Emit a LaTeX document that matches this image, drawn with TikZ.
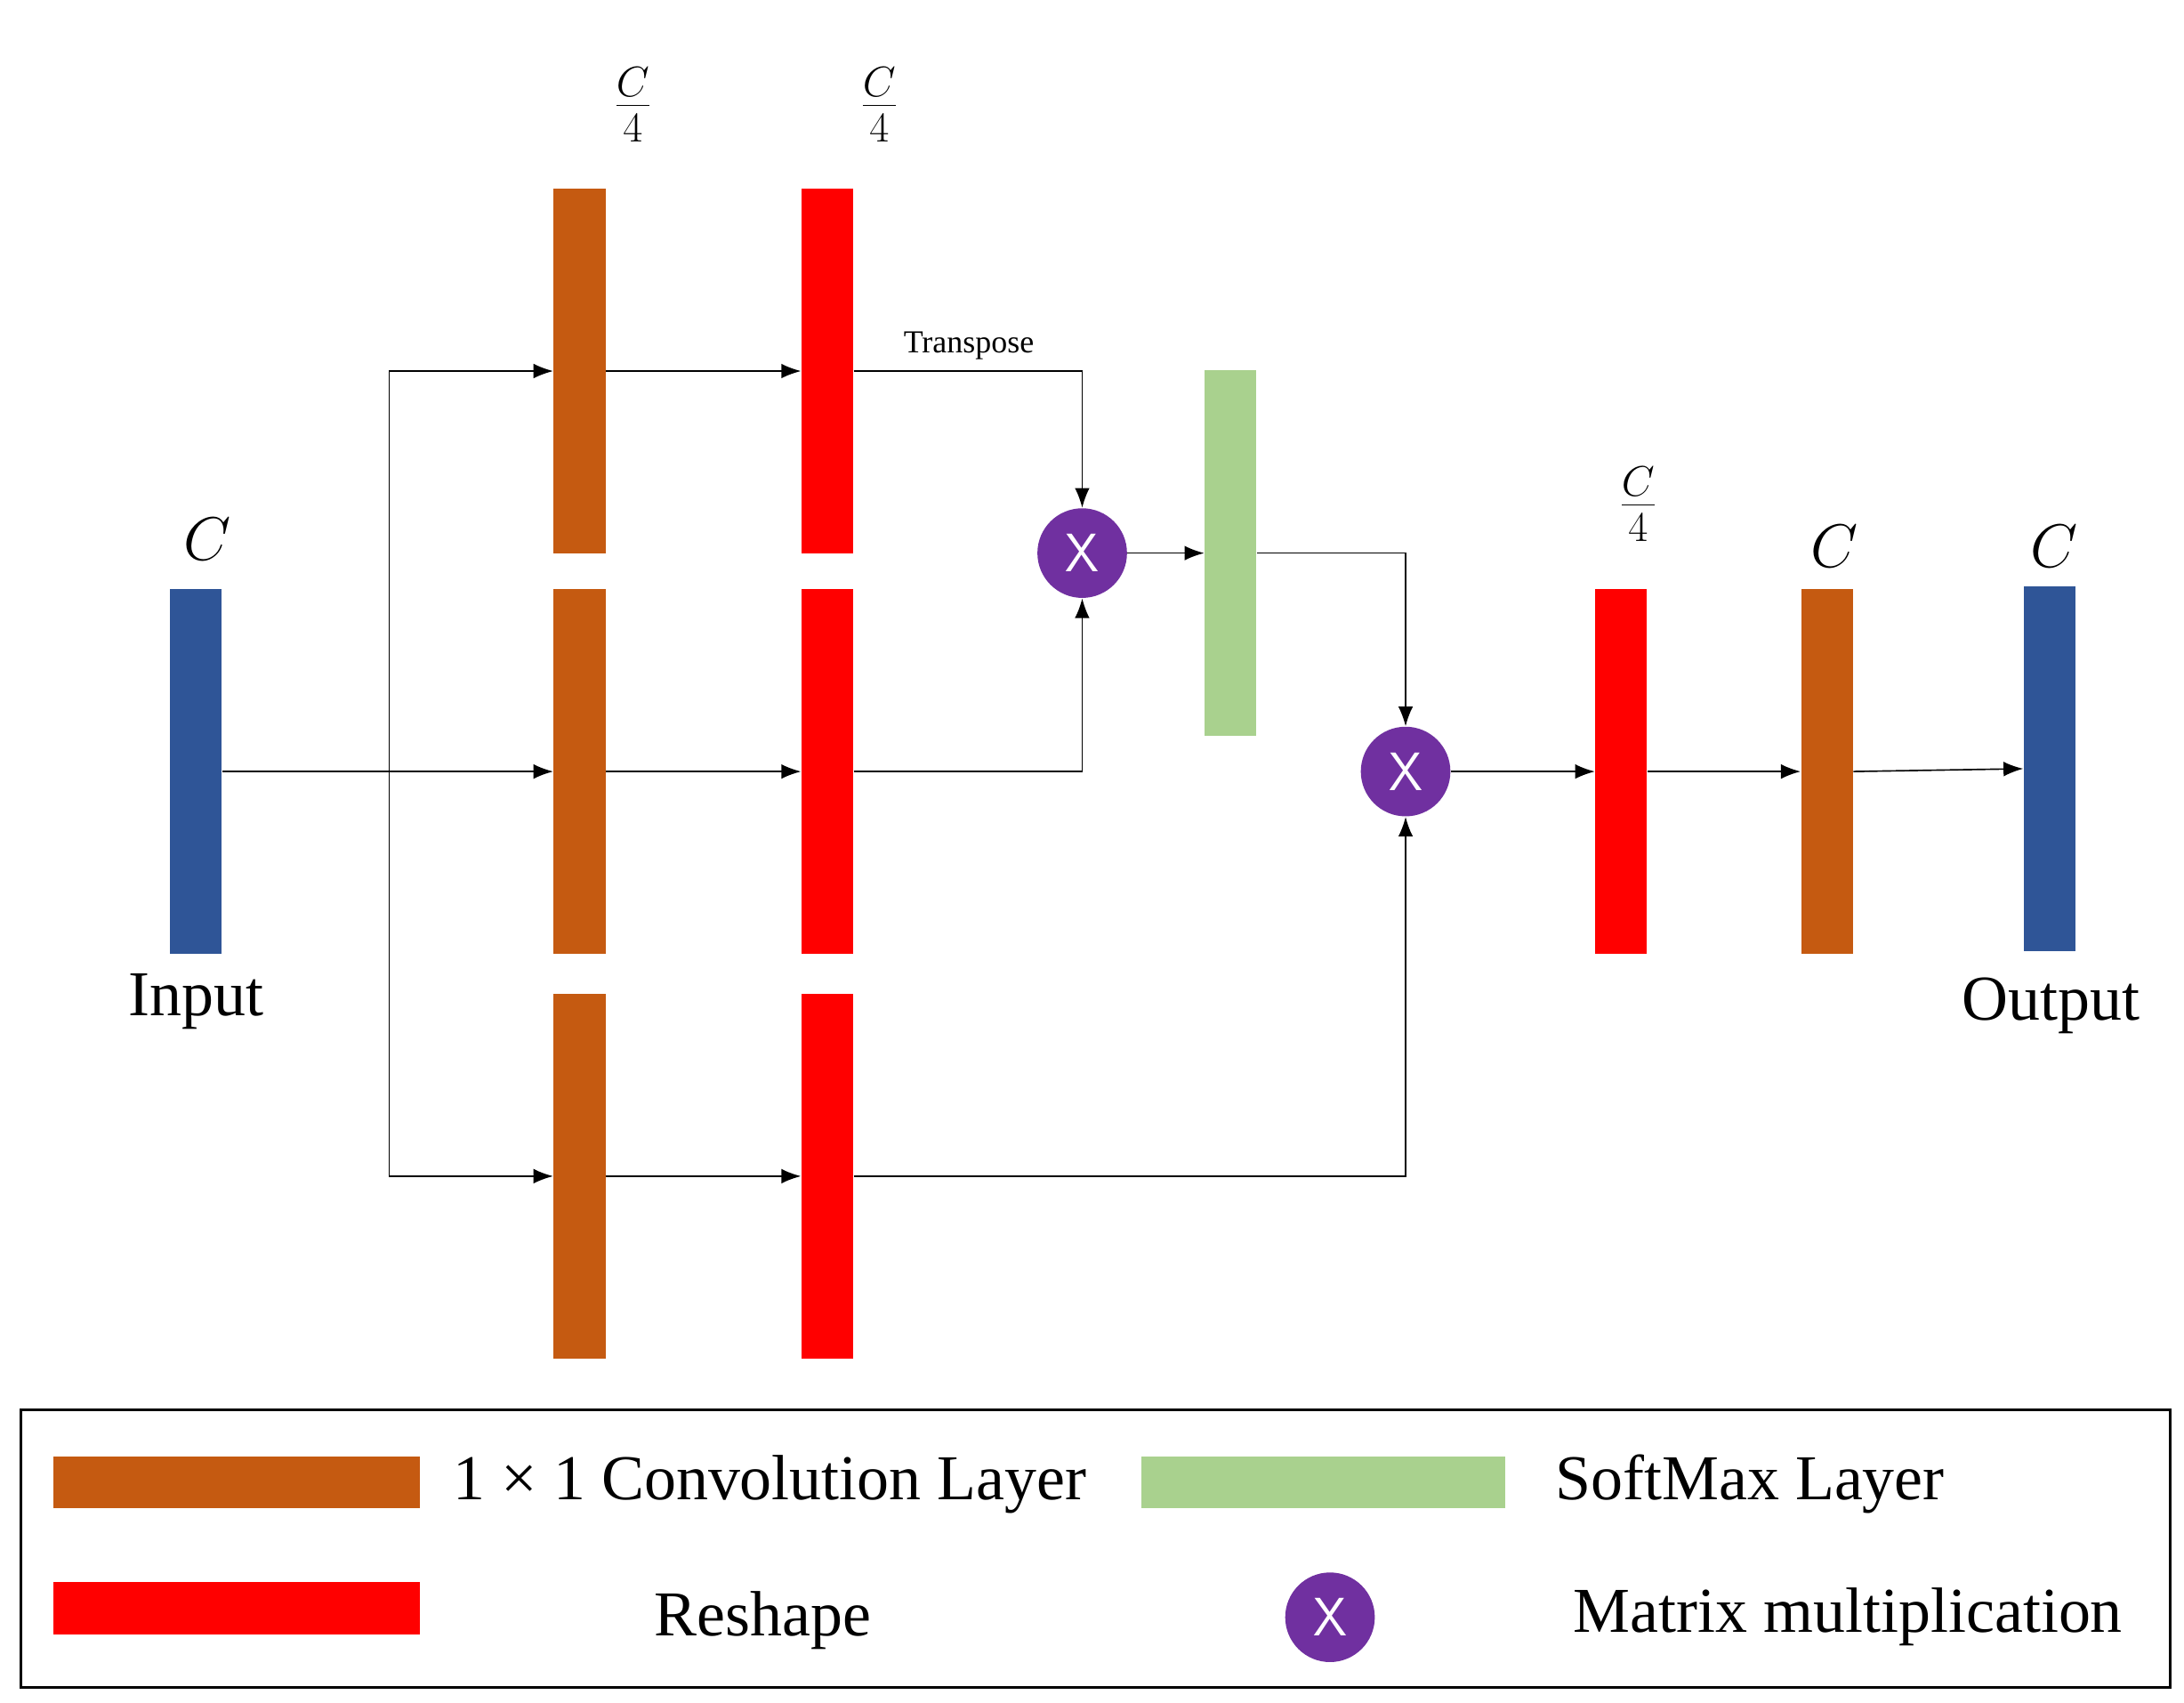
\documentclass[tikz,border=0pt]{standalone}
\usepackage{fontspec}
\setmainfont{Liberation Serif}
\usetikzlibrary{arrows.meta}
\definecolor{conv}{RGB}{197,90,17}
\definecolor{resh}{RGB}{255,0,0}
\definecolor{inb}{RGB}{47,85,151}
\definecolor{soft}{RGB}{169,209,142}
\definecolor{mult}{RGB}{112,48,160}
\begin{document}
\begin{tikzpicture}[x=0.02cm,y=-0.02cm,
  bar/.style={draw=none,fill=#1,minimum width=0.74cm,minimum height=5.22cm,inner sep=0},
  mul/.style={circle,fill=mult,minimum size=1.28cm,inner sep=0,text=white,font=\sffamily\fontsize{22}{22}\selectfont},
  lbl/.style={font=\fontsize{26}{30}\selectfont},
  dim/.style={font=\fontsize{24}{28}\selectfont},
  arr/.style={-{Latex[length=8pt,width=6pt]},line width=0.6pt},
  ln/.style={line width=0.6pt}]
\useasboundingbox (0,0) rectangle (1560,1216);
% bars
\node[bar=inb] (in) at (140,551) {};
\node[bar=conv] (c1) at (414,265) {};
\node[bar=conv] (c2) at (414,551) {};
\node[bar=conv] (c3) at (414,840) {};
\node[bar=resh] (r1) at (591,265) {};
\node[bar=resh] (r2) at (591,551) {};
\node[bar=resh] (r3) at (591,840) {};
\node[bar=soft] (sm) at (879,395) {};
\node[bar=resh] (r4) at (1158,551) {};
\node[bar=conv] (c4) at (1305,551) {};
\node[bar=inb] (out) at (1464,549) {};
\node[mul] (m1) at (773,395) {X};
\node[mul] (m2) at (1004,551) {X};
% labels
\node[dim] at (148,385) {$C$};
\node[dim] at (452,75) {$\frac{C}{4}$};
\node[dim] at (628,75) {$\frac{C}{4}$};
\node[dim] at (1170,360) {$\frac{C}{4}$};
\node[dim] at (1310,390) {$C$};
\node[dim] at (1467,390) {$C$};
\node[lbl] at (140,715) {Input};
\node[lbl] at (1465,718) {Output};
\node[font=\fontsize{13}{15}\selectfont] at (692,247) {Transpose};
% connectors
\draw[arr] (in.east) -- (c2.west);
\draw[ln] (278,265) -- (278,840);
\draw[arr] (278,265) -- (c1.west);
\draw[arr] (278,840) -- (c3.west);
\draw[arr] (c1.east) -- (r1.west);
\draw[arr] (c2.east) -- (r2.west);
\draw[arr] (c3.east) -- (r3.west);
\draw[arr] (r1.east) -| (m1.north);
\draw[arr] (r2.east) -| (m1.south);
\draw[arr] (m1.east) -- (sm.west);
\draw[arr] (sm.east) -| (m2.north);
\draw[arr] (r3.east) -| (m2.south);
\draw[arr] (m2.east) -- (r4.west);
\draw[arr] (r4.east) -- (c4.west);
\draw[arr] (c4.east) -- (out.west);
% legend
\draw[line width=1.2pt] (15,1007) rectangle (1550,1205);
\fill[conv] (38,1040) rectangle (300,1077);
\node[lbl] at (550,1060) {1 × 1 Convolution Layer};
\fill[soft] (815,1040) rectangle (1075,1077);
\node[lbl] at (1250,1060) {SoftMax Layer};
\fill[resh] (38,1130) rectangle (300,1167);
\node[lbl] at (545,1157) {Reshape};
\node[mul] (lm) at (950,1155) {X};
\node[lbl] at (1320,1155) {Matrix multiplication};
\end{tikzpicture}
\end{document}
